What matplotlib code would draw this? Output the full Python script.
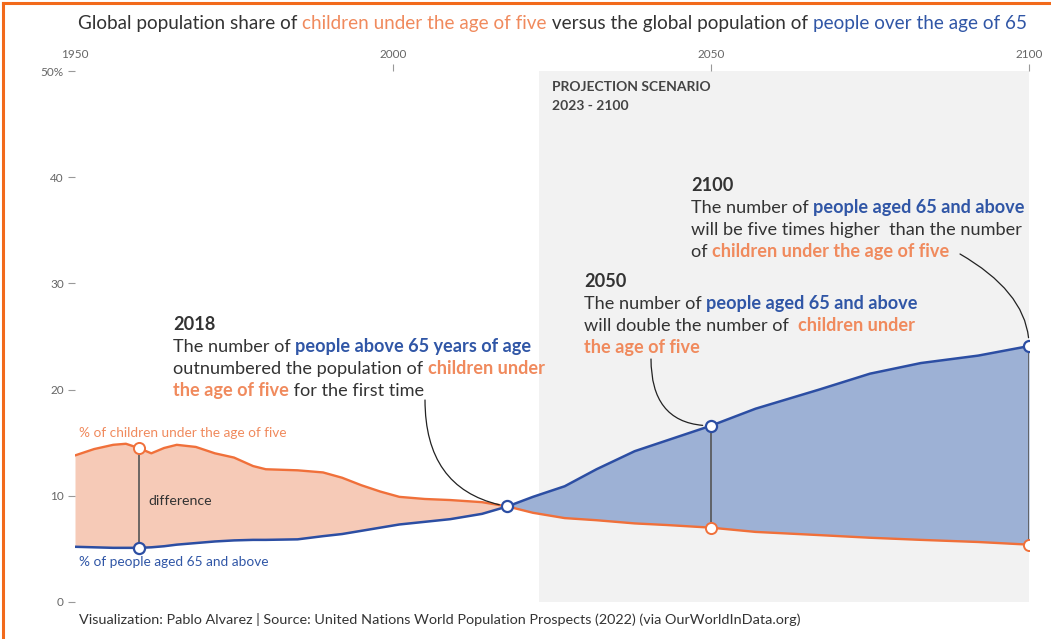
import matplotlib
matplotlib.use("Agg")
import matplotlib.pyplot as plt
import numpy as np

plt.rcParams['font.family'] = ['Lato', 'DejaVu Sans']

# ---- data ----
years = [1950, 1953, 1956, 1958, 1960, 1962, 1964, 1966, 1969, 1972, 1975, 1978, 1980,
         1985, 1989, 1992, 1995, 1998, 2001, 2005, 2009, 2014, 2018,
         2022, 2027, 2032, 2038, 2043, 2050, 2057, 2062, 2067, 2075, 2083,
         2092, 2100]
children = [13.8, 14.4, 14.8, 14.9, 14.5, 14.0, 14.5, 14.8, 14.6, 14.0, 13.6, 12.8, 12.5,
            12.4, 12.2, 11.7, 11.0, 10.4, 9.9, 9.7, 9.6, 9.4, 9.0,
            8.4, 7.9, 7.7, 7.4, 7.25, 7.0, 6.6, 6.45, 6.3, 6.05, 5.85,
            5.65, 5.4]
elderly = [5.2, 5.15, 5.1, 5.1, 5.1, 5.15, 5.25, 5.4, 5.55, 5.7, 5.8, 5.85, 5.85,
           5.9, 6.2, 6.4, 6.7, 7.0, 7.3, 7.55, 7.8, 8.3, 9.0,
           9.9, 10.9, 12.5, 14.2, 15.2, 16.6, 18.2, 19.1, 20.0, 21.5, 22.5,
           23.2, 24.1]
marker_years = [1960, 2018, 2050, 2100]
x_ticks = [1950, 2000, 2050, 2100]
y_ticks = [0, 10, 20, 30, 40, 50]
y_ticklabels = ['0', '10', '20', '30', '40', '50%']
proj_start, proj_end = 2023, 2100

ORANGE = '#f0703a'
ORANGE_T = '#f08a5d'
ORANGE_FILL = '#f6cab7'
BLUE = '#2c4ea3'
BLUE_T = '#3056a6'
BLUE_FILL = '#9db1d5'
DARK = '#333333'
GREY = '#555555'

fig = plt.figure(figsize=(10.51, 6.39), dpi=100)
ax = fig.add_axes([75/1051, 1-602/639, (1029-75)/1051, (602-71)/639])

ax.axvspan(proj_start, proj_end, color='#f2f2f2', zorder=0, lw=0)

yr = np.array(years, float)
ch = np.array(children)
el = np.array(elderly)
ax.fill_between(yr, ch, el, where=ch >= el, interpolate=True, color=ORANGE_FILL, lw=0, zorder=1)
ax.fill_between(yr, ch, el, where=el >= ch, interpolate=True, color=BLUE_FILL, lw=0, zorder=1)
ax.plot(yr, ch, color=ORANGE, lw=1.7, zorder=3, solid_capstyle='round', solid_joinstyle='round')
ax.plot(yr, el, color=BLUE, lw=1.8, zorder=3, solid_capstyle='round', solid_joinstyle='round')

for my in [1960, 2050, 2100]:
    i = years.index(my)
    ax.plot([my, my], [children[i], elderly[i]], color=GREY, lw=1.2, zorder=2)

for my in marker_years:
    i = years.index(my)
    if my != 2018:
        ax.plot(my, children[i], 'o', ms=8, mfc='white', mec=ORANGE, mew=1.4, zorder=5)
    ax.plot(my, elderly[i], 'o', ms=8, mfc='white', mec=BLUE, mew=1.6, zorder=5)

ax.set_xlim(1950, 2100)
ax.set_ylim(0, 50)
ax.set_xticks(x_ticks)
ax.set_xticklabels([str(v) for v in x_ticks])
ax.set_yticks(y_ticks)
ax.set_yticklabels(y_ticklabels)
ax.xaxis.tick_top()
ax.tick_params(axis='x', direction='out', length=5, width=0.8, color='#999999',
               labelsize=8.5, labelcolor='#666666', pad=3)
ax.tick_params(axis='y', direction='out', length=5, width=0.8, color='#999999',
               labelsize=8.5, labelcolor='#666666', pad=3)
ax.xaxis.get_major_ticks()[0].tick2line.set_visible(False)
for s in ax.spines.values():
    s.set_visible(False)


def rich_text(x, y, parts, size, coords='figure pixels'):
    """parts: list of (text, color, weight). Chained horizontally."""
    prev = None
    for txt, col, wt in parts:
        if prev is None:
            t = ax.annotate(txt, xy=(x, y), xycoords=coords, color=col,
                            fontweight=wt, fontsize=size, va='baseline', ha='left',
                            annotation_clip=False)
        else:
            t = ax.annotate(txt, xy=(1, 0), xycoords=prev, color=col,
                            fontweight=wt, fontsize=size, va='bottom', ha='left',
                            annotation_clip=False)
        prev = t


H = 639
def fp(x, y):
    return (x, H - y)

# title
rich_text(*fp(78, 29), [
    ('Global population share of ', DARK, 'normal'),
    ('children under the age of five', ORANGE_T, 'normal'),
    (' versus the global population of ', DARK, 'normal'),
    ('people over the age of 65', BLUE_T, 'normal'),
], 13.6)

# projection label
ax.annotate('PROJECTION SCENARIO', xy=fp(552, 91), xycoords='figure pixels',
            fontsize=10, fontweight='bold', color='#444444', va='baseline')
ax.annotate('2023 - 2100', xy=fp(552, 110), xycoords='figure pixels',
            fontsize=10, fontweight='bold', color='#444444', va='baseline')

# series labels
ax.annotate('% of children under the age of five', xy=fp(79, 437), xycoords='figure pixels',
            fontsize=9.8, color=ORANGE_T, va='baseline')
ax.annotate('% of people aged 65 and above', xy=fp(79, 566), xycoords='figure pixels',
            fontsize=9.8, color=BLUE_T, va='baseline')
ax.annotate('difference', xy=fp(148, 505), xycoords='figure pixels',
            fontsize=10.2, color=DARK, va='baseline')

# caption
ax.annotate('Visualization: Pablo Alvarez | Source: United Nations World Population Prospects (2022) (via OurWorldInData.org)',
            xy=fp(79, 624), xycoords='figure pixels', fontsize=10.4, color='#333333', va='baseline')

FS = 13.1
LH = 22
# 2018 annotation
x0, y0 = 173, 330
ax.annotate('2018', xy=fp(x0, y0), xycoords='figure pixels', fontsize=FS,
            fontweight='bold', color=DARK, va='baseline')
rich_text(*fp(x0, y0 + LH), [('The number of ', DARK, 'normal'),
                             ('people above 65 years of age', BLUE_T, 'bold')], FS)
rich_text(*fp(x0, y0 + 2*LH), [('outnumbered the population of ', DARK, 'normal'),
                               ('children under', ORANGE_T, 'bold')], FS)
rich_text(*fp(x0, y0 + 3*LH), [('the age of five', ORANGE_T, 'bold'),
                               (' for the first time', DARK, 'normal')], FS)

# 2050 annotation
x0, y0 = 584, 287
ax.annotate('2050', xy=fp(x0, y0), xycoords='figure pixels', fontsize=FS,
            fontweight='bold', color=DARK, va='baseline')
rich_text(*fp(x0, y0 + LH), [('The number of ', DARK, 'normal'),
                             ('people aged 65 and above', BLUE_T, 'bold')], FS)
rich_text(*fp(x0, y0 + 2*LH), [('will double the number of  ', DARK, 'normal'),
                               ('children under', ORANGE_T, 'bold')], FS)
rich_text(*fp(x0, y0 + 3*LH), [('the age of five', ORANGE_T, 'bold')], FS)

# 2100 annotation
x0, y0 = 691, 191
ax.annotate('2100', xy=fp(x0, y0), xycoords='figure pixels', fontsize=FS,
            fontweight='bold', color=DARK, va='baseline')
rich_text(*fp(x0, y0 + LH), [('The number of ', DARK, 'normal'),
                             ('people aged 65 and above', BLUE_T, 'bold')], FS)
rich_text(*fp(x0, y0 + 2*LH), [('will be five times higher  than the number', DARK, 'normal')], FS)
rich_text(*fp(x0, y0 + 3*LH), [('of ', DARK, 'normal'),
                               ('children under the age of five', ORANGE_T, 'bold')], FS)

# connectors
def conn(xy_data, xytext_px, style):
    ax.annotate('', xy=xy_data, xycoords='data', xytext=fp(*xytext_px),
                textcoords='figure pixels',
                arrowprops=dict(arrowstyle='-', color='#222222', lw=0.9,
                                connectionstyle=style, shrinkA=0, shrinkB=6),
                zorder=4)

i18 = years.index(2018)
conn((2018, elderly[i18]), (425, 400), 'angle3,angleA=-90,angleB=-10')
i50 = years.index(2050)
conn((2050, elderly[i50]), (651, 359), 'angle3,angleA=-90,angleB=0')
i00 = years.index(2100)
conn((2100, elderly[i00]), (960, 254), 'angle3,angleA=-30,angleB=90')

# orange frame (left and top)
fig.add_artist(plt.Line2D([3/1051, 3/1051], [0, 1-3/639], transform=fig.transFigure,
                          color='#f26a1b', lw=2.2))
fig.add_artist(plt.Line2D([3/1051, 1], [1-3/639, 1-3/639], transform=fig.transFigure,
                          color='#f26a1b', lw=2.2))

fig.savefig('out.png', dpi=100)
